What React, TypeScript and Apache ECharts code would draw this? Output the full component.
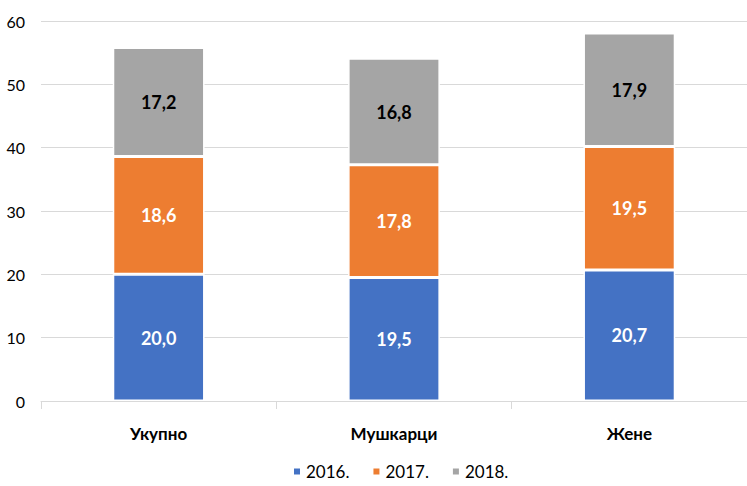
import React, { useEffect, useRef } from "react";
import * as echarts from "echarts";

const categories = ["Укупно", "Мушкарци", "Жене"];
const seriesNames = ["2016.", "2017.", "2018."];
const values2016 = [20.0, 19.5, 20.7];
const values2017 = [18.6, 17.8, 19.5];
const values2018 = [17.2, 16.8, 17.9];
const yTicks = { min: 0, max: 60, interval: 10 };
const colors = ["#4472c4", "#ed7d31", "#a5a5a5"];
const labelColors = ["#ffffff", "#ffffff", "#000000"];

const FONT = "Lato, 'Open Sans', sans-serif";

export default function App() {
  const ref = useRef<HTMLDivElement>(null);
  useEffect(() => {
    if (!ref.current) return;
    const chart = echarts.init(ref.current, null, { renderer: "svg" });
    const data = [values2016, values2017, values2018];
    chart.setOption({
      animation: false,
      textStyle: { fontFamily: FONT },
      grid: { left: 41, top: 21, width: 709, bottom: 85 },
      legend: {
        bottom: 1,
        left: 287,
        icon: "rect",
        itemWidth: 8,
        itemHeight: 8,
        itemGap: 22,
        textStyle: { fontSize: 17, color: "#000", fontFamily: FONT },
        data: seriesNames,
      },
      xAxis: {
        type: "category",
        data: categories,
        axisLine: { lineStyle: { color: "#d9d9d9", width: 1 } },
        axisTick: { show: true, length: 8, lineStyle: { color: "#d9d9d9" } },
        axisLabel: { fontSize: 17, fontWeight: "bold", color: "#000", margin: 24, fontFamily: FONT },
      },
      yAxis: {
        type: "value",
        min: yTicks.min,
        max: yTicks.max,
        interval: yTicks.interval,
        axisLine: { show: false },
        axisTick: { show: false },
        splitLine: { lineStyle: { color: "#d9d9d9", width: 1 } },
        axisLabel: { fontSize: 16, color: "#000", margin: 16, fontFamily: FONT },
      },
      series: seriesNames.map((name, i) => ({
        name,
        type: "bar",
        stack: "total",
        barWidth: "39%",
        data: data[i],
        itemStyle: { color: colors[i], borderColor: "#ffffff", borderWidth: 1.5 },
        label: {
          show: true,
          position: "inside",
          color: labelColors[i],
          fontSize: 18,
          fontWeight: "bold",
          fontFamily: FONT,
          formatter: (p: any) => p.value.toFixed(1).replace(".", ","),
        },
      })),
    });
    return () => chart.dispose();
  }, []);
  return <div ref={ref} style={{ width: 747, height: 486, position: "absolute", left: 0, top: 0 }} />;
}
